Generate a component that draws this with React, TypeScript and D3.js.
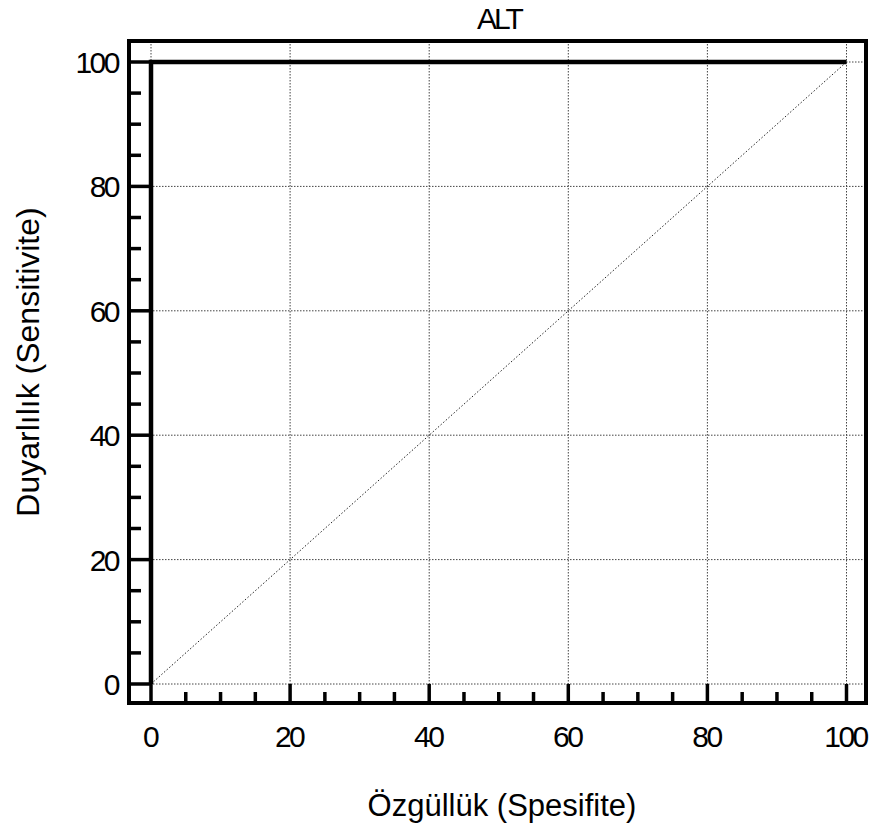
import React from "react";
import * as d3 from "d3";

const title = "ALT";
const xLabel = "Özgüllük (Spesifite)";
const yLabel = "Duyarlılık (Sensitivite)";
// ROC curve corners
const rocX = [0, 0, 100];
const rocY = [0, 100, 100];
// chance diagonal
const refX = [0, 100];
const refY = [0, 100];
const majorTicks = [0, 20, 40, 60, 80, 100];
const minorTicks = d3.range(0, 101, 5);

export default function App() {
  const width = 873;
  const height = 831;
  // frame box
  const fL = 129, fR = 866, fT = 41, fB = 703;
  const x = d3.scaleLinear().domain([0, 100]).range([151, 846.5]);
  const y = d3.scaleLinear().domain([0, 100]).range([684, 62]);
  const font = "'Liberation Sans', Arial, Helvetica, sans-serif";

  const line = d3.line<number>()
    .x((_, i) => x(rocX[i]))
    .y((_, i) => y(rocY[i]));
  const diag = d3.line<number>()
    .x((_, i) => x(refX[i]))
    .y((_, i) => y(refY[i]));

  return (
    <svg width={width} height={height} style={{ position: "absolute", left: 0, top: 0, background: "white" }}>
      {/* grid */}
      {majorTicks.map(t => (
        <g key={"g" + t}>
          <line x1={x(t)} x2={x(t)} y1={fT} y2={fB} stroke="#444" strokeWidth={1} strokeDasharray="1.5,1.5" />
          <line x1={fL} x2={fR} y1={y(t)} y2={y(t)} stroke="#444" strokeWidth={1} strokeDasharray="1.5,1.5" />
        </g>
      ))}
      <path d={diag(refX) || ""} fill="none" stroke="#222" strokeWidth={1} strokeDasharray="1.5,2" />
      {/* ticks */}
      {minorTicks.map(t => (
        <g key={"m" + t}>
          <line x1={x(t)} x2={x(t)} y1={fB} y2={t % 20 === 0 ? y(0) : fB - 11} stroke="black" strokeWidth={3.5} />
          <line x1={fL} x2={t % 20 === 0 ? x(0) : fL + 12} y1={y(t)} y2={y(t)} stroke="black" strokeWidth={3.5} />
        </g>
      ))}
      {/* roc */}
      <path d={line(rocX) || ""} fill="none" stroke="black" strokeWidth={4.5} strokeLinejoin="miter" strokeLinecap="butt" />
      {/* frame */}
      <rect x={fL} y={fT} width={fR - fL} height={fB - fT} fill="none" stroke="black" strokeWidth={4} />
      {/* tick labels */}
      {majorTicks.map(t => (
        <text key={"xl" + t} x={x(t) - 1} y={747} textAnchor="middle" fontFamily={font} fontSize={30} letterSpacing={-2.5}>{t}</text>
      ))}
      {majorTicks.map(t => (
        <text key={"yl" + t} x={118} y={y(t) + 11} textAnchor="end" fontFamily={font} fontSize={30} letterSpacing={-2.5}>{t}</text>
      ))}
      <text x={499} y={29} textAnchor="middle" fontFamily={font} fontSize={30} letterSpacing={-3}>{title}</text>
      <text x={502} y={816} textAnchor="middle" fontFamily={font} fontSize={31}>{xLabel}</text>
      <text transform={`translate(39, 362) rotate(-90)`} textAnchor="middle" fontFamily={font} fontSize={32}>{yLabel}</text>
    </svg>
  );
}
